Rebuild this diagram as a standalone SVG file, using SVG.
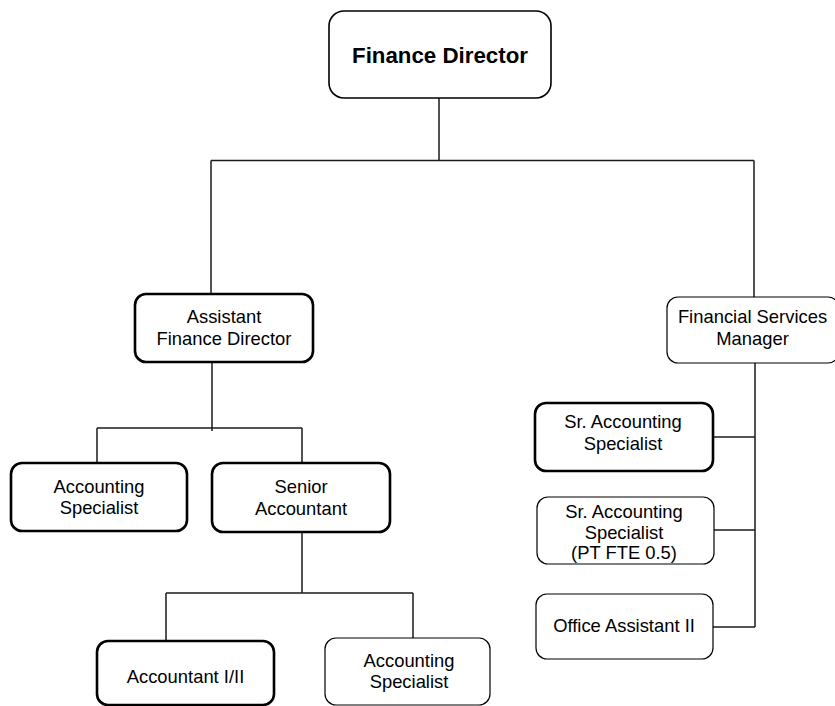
<svg xmlns="http://www.w3.org/2000/svg" width="835" height="706" viewBox="0 0 835 706">
<style>
.box{fill:#fff;stroke:#000;stroke-width:1.2}
.bold{stroke-width:2.6}
.mid{stroke-width:1.6}
text{font-family:"Liberation Sans",Arial,sans-serif;font-size:18.4px;fill:#000;text-anchor:middle}
.title{font-size:22.3px;font-weight:bold}
.conn line{stroke:#1a1a1a;stroke-width:1.5}
</style>
<rect width="835" height="706" fill="#fff"/>
<g class="conn" id="connectors">
<line x1="439" y1="98" x2="439" y2="160.5"/>
<line x1="211" y1="160.5" x2="754" y2="160.5"/>
<line x1="211" y1="160.5" x2="211" y2="294"/>
<line x1="754" y1="160.5" x2="754" y2="297"/>
<line x1="212" y1="362" x2="212" y2="431"/>
<line x1="97" y1="428" x2="302" y2="428"/>
<line x1="97" y1="428" x2="97" y2="463"/>
<line x1="302" y1="428" x2="302" y2="463"/>
<line x1="302" y1="532" x2="302" y2="593"/>
<line x1="166" y1="593" x2="413" y2="593"/>
<line x1="166" y1="593" x2="166" y2="641"/>
<line x1="413" y1="593" x2="413" y2="638"/>
<line x1="755" y1="363" x2="755" y2="627"/>
<line x1="713" y1="437" x2="755" y2="437"/>
<line x1="714" y1="530" x2="755" y2="530"/>
<line x1="713" y1="627" x2="755" y2="627"/>
</g>
<g id="finance-director">
<rect class="box mid" x="329" y="11" width="222" height="87" rx="15"/>
<text class="title" x="440" y="63">Finance Director</text>
</g>
<g id="assistant-finance-director">
<rect class="box bold" x="135" y="294" width="178" height="68" rx="11"/>
<text x="224" y="323">Assistant</text>
<text x="224" y="345">Finance Director</text>
</g>
<g id="financial-services-manager">
<rect class="box" x="667" y="297" width="172" height="66" rx="11"/>
<text x="752.5" y="323">Financial Services</text>
<text x="752.5" y="345">Manager</text>
</g>
<g id="accounting-specialist-1">
<rect class="box bold" x="11" y="463" width="176" height="68" rx="11"/>
<text x="99" y="493">Accounting</text>
<text x="99" y="514">Specialist</text>
</g>
<g id="senior-accountant">
<rect class="box bold" x="212" y="463" width="178" height="69" rx="11"/>
<text x="301" y="492.5">Senior</text>
<text x="301" y="514.5">Accountant</text>
</g>
<g id="accountant-1-2">
<rect class="box bold" x="97" y="641" width="177" height="64" rx="11"/>
<text x="185.5" y="683">Accountant I/II</text>
</g>
<g id="accounting-specialist-2">
<rect class="box" x="325" y="638" width="165" height="67" rx="11"/>
<text x="409" y="667">Accounting</text>
<text x="409" y="688">Specialist</text>
</g>
<g id="sr-accounting-specialist-1">
<rect class="box bold" x="535" y="403" width="178" height="68" rx="11"/>
<text x="623" y="428">Sr. Accounting</text>
<text x="623" y="450">Specialist</text>
</g>
<g id="sr-accounting-specialist-pt">
<rect class="box" x="537" y="497" width="177" height="67" rx="11"/>
<text x="624" y="518">Sr. Accounting</text>
<text x="624" y="539">Specialist</text>
<text x="624" y="559">(PT FTE 0.5)</text>
</g>
<g id="office-assistant-2">
<rect class="box" x="536" y="594" width="177" height="65" rx="11"/>
<text x="624" y="632">Office Assistant II</text>
</g>
</svg>
